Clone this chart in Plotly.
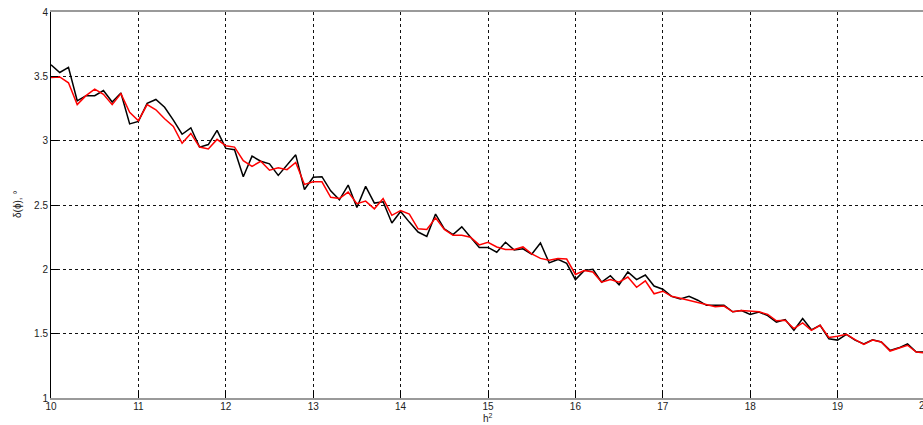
import plotly.graph_objects as go

# Sampling positions h^2 (step 0.1 from 10 to 20)
h2 = [round(10 + 0.1 * i, 1) for i in range(101)]

# Measured phase deviation (black curve), degrees
delta_measured = [
    3.59, 3.53, 3.57, 3.31, 3.35, 3.35, 3.39, 3.30, 3.37, 3.13,
    3.15, 3.29, 3.32, 3.26, 3.16, 3.05, 3.10, 2.95, 2.97, 3.08,
    2.94, 2.93, 2.72, 2.88, 2.84, 2.82, 2.73, 2.81, 2.89, 2.62,
    2.715, 2.72, 2.61, 2.54, 2.655, 2.48, 2.645, 2.515, 2.525, 2.36,
    2.45, 2.367, 2.29, 2.256, 2.43, 2.315, 2.27, 2.33, 2.25, 2.17,
    2.17, 2.133, 2.21, 2.15, 2.16, 2.118, 2.205, 2.05, 2.077, 2.046,
    1.92, 1.99, 2.00, 1.90, 1.95, 1.88, 1.98, 1.92, 1.956, 1.87,
    1.845, 1.79, 1.77, 1.79, 1.76, 1.72, 1.72, 1.72, 1.67, 1.68,
    1.65, 1.668, 1.64, 1.59, 1.61, 1.526, 1.617, 1.53, 1.565, 1.46,
    1.45, 1.495, 1.45, 1.42, 1.453, 1.435, 1.37, 1.39, 1.42, 1.357,
    1.357,
]

# Model phase deviation (red curve), degrees
delta_model = [
    3.49, 3.495, 3.45, 3.28, 3.35, 3.40, 3.36, 3.28, 3.366, 3.22,
    3.155, 3.28, 3.24, 3.17, 3.11, 2.98, 3.056, 2.95, 2.935, 3.01,
    2.96, 2.95, 2.845, 2.80, 2.84, 2.77, 2.79, 2.775, 2.83, 2.66,
    2.68, 2.68, 2.56, 2.55, 2.60, 2.51, 2.53, 2.47, 2.55, 2.42,
    2.456, 2.43, 2.315, 2.31, 2.40, 2.31, 2.264, 2.264, 2.25, 2.19,
    2.21, 2.174, 2.154, 2.154, 2.174, 2.12, 2.085, 2.07, 2.085, 2.08,
    1.96, 1.99, 1.98, 1.90, 1.92, 1.90, 1.94, 1.86, 1.91, 1.81,
    1.83, 1.79, 1.775, 1.76, 1.74, 1.73, 1.71, 1.715, 1.67, 1.68,
    1.676, 1.67, 1.65, 1.60, 1.604, 1.54, 1.583, 1.526, 1.565, 1.47,
    1.48, 1.495, 1.453, 1.417, 1.45, 1.435, 1.365, 1.39, 1.41, 1.357,
    1.35,
]

x_ticks = [10, 11, 12, 13, 14, 15, 16, 17, 18, 19]
x_tick_text = ["10", "11", "12", "13", "14", "15", "16", "17", "18", "19"]
y_ticks = [1, 1.5, 2, 2.5, 3, 3.5, 4]
y_tick_text = ["1", "1.5", "2", "2.5", "3", "3.5", "4"]

X_MIN, X_MAX = 10, 19.977   # the h^2 = 20 edge sits just past the page edge

FONT = "Liberation Sans, Arial, sans-serif"
TXT = "#222222"

fig = go.Figure()
fig.add_trace(go.Scatter(x=h2, y=delta_measured, mode="lines",
                         line=dict(color="#000000", width=1.5),
                         showlegend=False))
fig.add_trace(go.Scatter(x=h2, y=delta_model, mode="lines",
                         line=dict(color="#ff0000", width=1.5),
                         showlegend=False))

fig.update_layout(
    width=923, height=425,
    margin=dict(l=51, r=0, t=12, b=27),
    paper_bgcolor="white", plot_bgcolor="white",
    font=dict(family=FONT, size=10, color=TXT),
    xaxis=dict(
        range=[X_MIN, X_MAX], tickvals=x_ticks, ticktext=x_tick_text,
        showgrid=True, gridcolor="#111111", gridwidth=1, griddash="3px,3px",
        showline=True, linecolor="#9a9a9a", linewidth=2, mirror=True,
        ticks="inside", ticklen=7, tickcolor="#000000", tickwidth=1,
        ticklabelstandoff=-2,
        zeroline=False, tickfont=dict(size=10, color=TXT),
    ),
    yaxis=dict(
        range=[1, 4], tickvals=y_ticks, ticktext=y_tick_text,
        showgrid=True, gridcolor="#111111", gridwidth=1, griddash="3px,3px",
        showline=True, linecolor="#000000", linewidth=1,
        ticks="inside", ticklen=7, tickcolor="#000000", tickwidth=1,
        zeroline=False, tickfont=dict(size=10, color=TXT),
    ),
    annotations=[
        dict(text="h<sup>2</sup>", x=15, xref="x", y=0, yref="paper",
             yshift=-20, showarrow=False, yanchor="middle",
             font=dict(size=10, color=TXT)),
        dict(text="δ(ϕ), °", x=0, xref="paper", xshift=-34, y=0.5, yref="paper",
             textangle=-90, showarrow=False, xanchor="center",
             font=dict(size=10, color=TXT)),
        # tick label for h^2 = 20, mostly beyond the right page edge
        dict(text="20", x=(20 - X_MIN) / (X_MAX - X_MIN), xref="paper",
             y=0, yref="paper", yshift=-7, showarrow=False,
             xanchor="center", yanchor="middle",
             font=dict(size=10, color=TXT)),
    ],
)

fig.write_html("out.html")
